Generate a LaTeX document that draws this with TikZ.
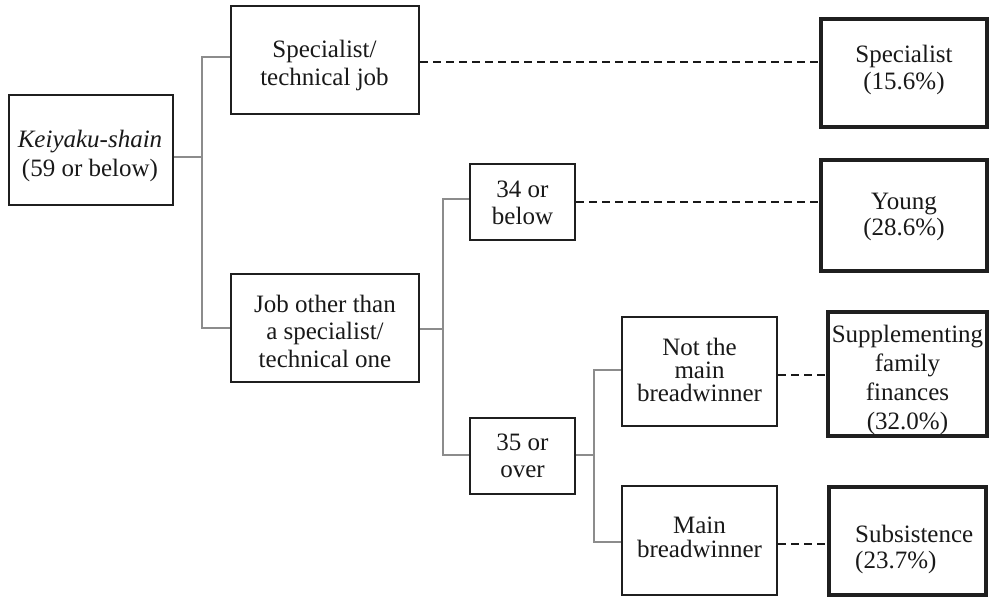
\documentclass[tikz,border=0pt]{standalone}
\usepackage{fontspec}
\setmainfont{Liberation Serif}
\newcommand{\boxlines}[2]{\vtop{\fontsize{25}{#1}\selectfont\lineskiplimit=-1000pt\lineskip=0pt\halign{\hfil##\hfil\cr#2\crcr}}}
\newcommand{\boxlinesl}[2]{\vtop{\fontsize{25}{#1}\selectfont\lineskiplimit=-1000pt\lineskip=0pt\halign{##\hfil\cr#2\crcr}}}
\begin{document}
\begin{tikzpicture}[x=1pt,y=-1pt,
  thinbox/.style={draw=black!88, line width=2pt, inner sep=0pt},
  thickbox/.style={draw=black!88, line width=4.6pt, inner sep=0pt},
  txt/.style={inner sep=0pt, anchor=base, text=black!90},
  tree/.style={draw=black!45, line width=2.4pt},
  dashlink/.style={draw=black!90, line width=1.5pt, dash pattern=on 8pt off 5pt}]
\useasboundingbox[fill=white] (0,0) rectangle (991,599);
% decision boxes
\node[thinbox, minimum width=164pt, minimum height=110pt] (K) at (91,150) {};
\node[thinbox, minimum width=188pt, minimum height=108pt] (ST) at (325,60) {};
\node[thinbox, minimum width=188pt, minimum height=108pt] (J) at (325,328) {};
\node[thinbox, minimum width=105pt, minimum height=76pt] (Y34) at (522.5,202) {};
\node[thinbox, minimum width=105pt, minimum height=76pt] (O35) at (522.5,456) {};
\node[thinbox, minimum width=155pt, minimum height=109pt] (NM) at (699.5,371.5) {};
\node[thinbox, minimum width=155pt, minimum height=109pt] (MB) at (699.5,540.5) {};
% outcome boxes
\node[thickbox, minimum width=166pt, minimum height=108pt] (Sp) at (904,73) {};
\node[thickbox, minimum width=166pt, minimum height=111pt] (Yg) at (904,215.5) {};
\node[thickbox, minimum width=159pt, minimum height=124pt] (SF) at (907.5,374) {};
\node[thickbox, minimum width=157pt, minimum height=108pt] (Su) at (907.5,541) {};
% texts
\node[txt] (Kt) at (90,148) {\boxlines{29}{\textit{Keiyaku-shain}\cr(59 or below)}};
\node[txt] (STt) at (324.5,58) {\boxlines{28}{Specialist/\cr technical job}};
\node[txt] (Jt) at (325,312) {\boxlines{27.5}{Job other than\cr a specialist/\cr technical one}};
\node[txt] (Y34t) at (522.5,197) {\boxlines{27}{34 or\cr below}};
\node[txt] (O35t) at (522.5,450) {\boxlines{27}{35 or\cr over}};
\node[txt] (NMt) at (699.5,355) {\boxlines{23}{Not the\cr main\cr breadwinner}};
\node[txt] (MBt) at (699.5,533) {\boxlines{24}{Main\cr breadwinner}};
\node[txt] (Spt) at (904,63) {\boxlines{27}{Specialist\cr(15.6\%)}};
\node[txt] (Ygt) at (904,209.5) {\boxlines{25.5}{Young\cr(28.6\%)}};
\node[txt] (SFt) at (907.5,342) {\boxlines{29}{Supplementing\cr family\cr finances\cr(32.0\%)}};
\node[txt, anchor=base west] (Sut) at (855,542) {\boxlinesl{26}{Subsistence\cr(23.7\%)}};
% tree connectors
\coordinate (k1) at ([yshift=-7pt]K.east);
\coordinate (s1) at ([yshift=3pt]ST.west);
\coordinate (b1) at (202,0);
\draw[tree] (k1) -- (k1 -| b1);
\draw[tree] (s1) -| (b1 |- J.west) -- (J.west);
\coordinate (j1) at ([yshift=-1pt]J.east);
\coordinate (b2) at (443,0);
\coordinate (y1) at ([yshift=3pt]Y34.west);
\coordinate (o1) at ([yshift=1pt]O35.west);
\draw[tree] (j1) -- (j1 -| b2);
\draw[tree] (y1) -| (b2 |- o1) -- (o1);
\coordinate (o2) at ([yshift=1pt]O35.east);
\coordinate (b3) at (594,0);
\coordinate (n1) at ([yshift=1.5pt]NM.west);
\coordinate (m1) at ([yshift=-1.5pt]MB.west);
\draw[tree] (o2) -- (o2 -| b3);
\draw[tree] (n1) -| (b3 |- m1) -- (m1);
% dashed links
\draw[dashlink] ([yshift=-2pt]ST.east) -- ([yshift=-2pt]ST.east -| Sp.west);
\draw[dashlink] (Y34.east) -- (Y34.east -| Yg.west);
\draw[dashlink] ([yshift=-3.5pt]NM.east) -- ([yshift=-3.5pt]NM.east -| SF.west);
\draw[dashlink] ([yshift=-3.5pt]MB.east) -- ([yshift=-3.5pt]MB.east -| Su.west);
\end{tikzpicture}
\end{document}
